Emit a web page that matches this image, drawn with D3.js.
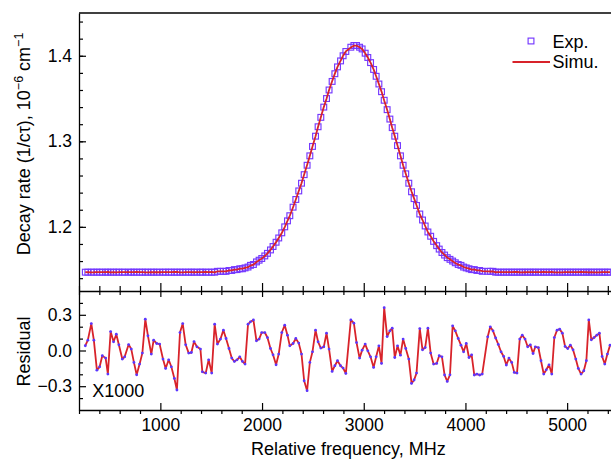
<!DOCTYPE html>
<html><head><meta charset="utf-8">
<script src="https://cdn.jsdelivr.net/npm/d3@7"></script>
<style>
html,body{margin:0;padding:0;background:#fff;}
svg{display:block;}
text{font-family:"Liberation Sans",Arial,Helvetica,sans-serif;fill:#000;}
</style></head>
<body>
<svg id="chart" width="611" height="459"></svg>
<script>
// ---- data ----
const freq = [262,287,321,346,376,403,429,462,484,511,540,567,592,626,649,688,714,740,767,796,823,852,878,911,934,964,993,1026,1052,1082,1108,1138,1163,1193,1220,
1249,1279,1305,1331,1360,1394,1413,1446,1475,1505,1534,1561,1591,1620,1646,1675,1702,1728,1754,1781,1807,1833,1862,1886,1915,1945,1971,1997,2027,2053,2083,2108,2138,2164,2194,2223,2250,2273,
2305,2332,2361,2388,2414,2443,2470,2496,2526,2551,2578,2607,2634,2659,2689,2716,2742,2772,2797,2824,2873,2903,2929,2959,2984,3014,3040,3067,3097,3122,3149,3175,3201,3230,3257,3280,
3305,3332,3361,3387,3413,3443,3470,3495,3519,3551,3578,3604,3631,3658,3687,3717,3742,3769,3795,3821,3848,3874,3900,3929,3956,3982,4008,4035,4061,4087,4113,4140,4165,4219,4244,4271,4297,4323,
4350,4376,4402,4428,4455,4480,4507,4534,4559,4586,4612,4638,4665,4687,4717,4743,4770,4795,4822,4849,4874,4901,4927,4953,4980,5006,5032,5058,5085,5110,5137,5164,5189,5213,5238,5265,5292,5317,5344,5370,5396,5422];

const expRate = [1.147,1.147,1.147,1.147,1.147,1.147,1.147,1.147,1.147,1.147,1.147,1.147,1.147,1.147,1.147,1.147,1.147,1.147,1.147,1.147,1.147,1.147,1.147,1.147,1.147,1.147,1.147,1.147,1.147,1.147,1.147,1.147,1.147,1.147,1.147,
1.147,1.147,1.147,1.147,1.147,1.147,1.147,1.147,1.147,1.147,1.147,1.148,1.148,1.148,1.148,1.149,1.149,1.150,1.150,1.151,1.151,1.152,1.153,1.155,1.156,1.159,1.161,1.163,1.166,1.169,1.173,1.177,1.182,1.187,1.193,1.200,1.207,1.213,
1.223,1.232,1.242,1.251,1.261,1.272,1.283,1.294,1.306,1.317,1.328,1.340,1.350,1.360,1.370,1.379,1.387,1.394,1.400,1.405,1.410,1.412,1.412,1.410,1.408,1.403,1.398,1.392,1.384,1.376,1.367,1.358,1.348,1.337,1.326,1.316,
1.306,1.295,1.283,1.272,1.262,1.251,1.241,1.233,1.225,1.215,1.208,1.201,1.194,1.189,1.183,1.178,1.174,1.170,1.167,1.164,1.162,1.160,1.158,1.156,1.155,1.153,1.152,1.151,1.150,1.150,1.149,1.149,1.148,1.148,1.148,1.148,1.147,1.147,
1.147,1.147,1.147,1.147,1.147,1.147,1.147,1.147,1.147,1.147,1.147,1.147,1.147,1.147,1.147,1.147,1.147,1.147,1.147,1.147,1.147,1.147,1.147,1.147,1.147,1.147,1.147,1.147,1.147,1.147,1.147,1.147,1.147,1.147,1.147,1.147,1.147,1.147,1.147,1.147,1.147,1.147];

// residual, shown multiplied by 1000
const residual = [0.04,0.087,0.226,0.087,-0.165,-0.137,-0.044,-0.064,-0.198,0.159,0.073,0.137,0.048,-0.072,-0.053,0.05,0.012,-0.1,-0.204,-0.114,-0.022,0.263,0.123,-0.03,0.087,0.059,0.054,-0.072,-0.151,-0.078,-0.137,-0.235,-0.332,0.151,0.226,
0.048,-0.022,-0.017,0.075,0.031,0.012,-0.179,-0.19,-0.078,-0.19,0.221,0.054,0.096,0.171,0.101,0.017,-0.064,-0.092,-0.078,-0.053,-0.092,-0.114,0.221,0.241,0.257,0.081,0.096,0.151,0.151,0.109,0.017,-0.036,-0.12,-0.03,0.151,0.213,0.129,0.039,
0.059,0.101,0.062,-0.03,-0.254,-0.338,-0.1,-0.011,0.171,0.073,0.02,0.031,0.146,0.012,-0.176,-0.128,-0.086,-0.128,-0.148,-0.193,0.257,0.23,0.067,-0.064,0.003,0.054,-0.003,-0.053,-0.142,-0.053,0.039,-0.109,0.36,0.117,0.165,0.188,
-0.059,0.039,-0.039,0.096,0.017,-0.072,-0.277,-0.248,-0.19,0.184,0.006,0.025,0.188,-0.022,-0.114,-0.109,-0.044,-0.053,-0.206,-0.26,-0.204,0.207,0.165,0.101,0.045,-0.011,0.059,-0.059,-0.036,-0.206,-0.198,-0.206,-0.198,0.115,0.199,0.165,0.105,0.051,
-0.011,-0.05,-0.122,-0.064,-0.1,-0.184,-0.19,0.096,0.129,0.096,0.031,0.048,-0.025,0.031,0.025,-0.086,-0.198,-0.162,-0.12,-0.198,0.109,0.171,0.179,0.146,0.034,0.017,0.045,0.006,-0.072,-0.151,-0.198,-0.17,-0.086,0.257,0.09,0.109,0.129,0.146,-0.05,-0.114,-0.03,0.045];

// simulated curve = experiment minus residual (residual shown x1000)
const simuRate = expRate.map((v, i) => v - residual[i] / 1000);

const xTickValues = [1000, 2000, 3000, 4000, 5000];
const yTopTickValues = [1.2, 1.3, 1.4];
const yResTickValues = [-0.3, 0.0, 0.3];
const legendLabels = ["Exp.", "Simu."];
const xTitle = "Relative frequency, MHz";
const resTitle = "Residual";
const scaleNote = "X1000";

// ---- layout ----
const svg = d3.select("#chart");
const L = 79, R = 612.9, T = 13, MID = 291, B = 410;
const COL_SQ = "#7438ff", COL_DOT = "#5a36ff", COL_RED = "#d8232a";

const x = d3.scaleLinear().domain([200, 5450]).range([L, R]);
const yTop = d3.scaleLinear().domain([1.125, 1.45]).range([MID, T]);
const yRes = d3.scaleLinear().domain([-0.5, 0.5]).range([B, MID]);

const xMinor = d3.range(1, 28).map(i => i * 200);
const yTopMinor = d3.range(57, 73).map(i => +(i * 0.02).toFixed(2));
const yResMinor = d3.range(-4, 5).map(i => +(i * 0.1).toFixed(1));

function styleAxis(g, fs) {
  g.selectAll("path.domain").attr("stroke", "#000").attr("stroke-width", 1.3);
  g.selectAll(".tick line").attr("stroke", "#000").attr("stroke-width", 1.2);
  g.selectAll(".tick text").attr("font-size", fs).attr("font-family", '"Liberation Sans",Arial,sans-serif').attr("fill", "#000");
}

// frame lines (top border, right border)
svg.append("line").attr("x1", L).attr("x2", R).attr("y1", T).attr("y2", T).attr("stroke", "#000").attr("stroke-width", 1.3);
svg.append("line").attr("x1", R).attr("x2", R).attr("y1", T).attr("y2", B).attr("stroke", "#000").attr("stroke-width", 1.3);

// ---- top panel axes ----
svg.append("g").attr("transform", `translate(${L},0)`)
  .call(d3.axisLeft(yTop).tickValues(yTopMinor).tickSize(-4).tickSizeOuter(0).tickFormat(""))
  .call(g => { styleAxis(g, 17.5); g.select(".domain").remove(); });
svg.append("g").attr("transform", `translate(${L},0)`)
  .call(d3.axisLeft(yTop).tickValues(yTopTickValues).tickSize(-7).tickSizeOuter(0).tickPadding(7).tickFormat(d3.format(".1f")))
  .call(g => styleAxis(g, 17.5));
svg.append("g").attr("transform", `translate(0,${MID})`)
  .call(d3.axisBottom(x).tickValues(xMinor.filter(v => v % 1000 !== 0)).tickSize(-5).tickSizeOuter(0).tickFormat(""))
  .call(g => { styleAxis(g, 17.5); g.select(".domain").remove(); });
svg.append("g").attr("transform", `translate(0,${MID})`)
  .call(d3.axisBottom(x).tickValues(xTickValues).tickSize(-8).tickSizeOuter(0).tickFormat(""))
  .call(g => styleAxis(g, 17.5));

// ---- residual panel axes ----
svg.append("g").attr("transform", `translate(0,${MID})`)
  .call(d3.axisTop(x).tickValues(xMinor.filter(v => v % 1000 !== 0)).tickSize(-4).tickSizeOuter(0).tickFormat(""))
  .call(g => { styleAxis(g, 17.5); g.select(".domain").remove(); });
svg.append("g").attr("transform", `translate(0,${MID})`)
  .call(d3.axisTop(x).tickValues(xTickValues).tickSize(-6).tickSizeOuter(0).tickFormat(""))
  .call(g => { styleAxis(g, 17.5); g.select(".domain").remove(); });

svg.append("g").attr("transform", `translate(0,${B})`)
  .call(d3.axisTop(x).tickValues(xMinor.filter(v => v % 1000 !== 0)).tickSize(-4).tickSizeOuter(0).tickFormat(""))
  .call(g => { styleAxis(g, 17.5); g.select(".domain").remove(); });
svg.append("g").attr("transform", `translate(0,${B})`)
  .call(d3.axisBottom(x).tickValues(xTickValues).tickSize(-7).tickSizeOuter(0).tickPadding(9).tickFormat(d3.format("d")))
  .call(g => styleAxis(g, 17.5));

svg.append("g").attr("transform", `translate(${L},0)`)
  .call(d3.axisLeft(yRes).tickValues(yResMinor.filter(v => Math.abs(v) > 1e-9 && Math.abs(Math.abs(v) - 0.3) > 1e-9)).tickSize(-4).tickSizeOuter(0).tickFormat(""))
  .call(g => { styleAxis(g, 17.5); g.select(".domain").remove(); });
svg.append("g").attr("transform", `translate(${L},0)`)
  .call(d3.axisLeft(yRes).tickValues(yResTickValues).tickSize(-7).tickSizeOuter(0).tickPadding(7).tickFormat(d3.format(".1f")))
  .call(g => styleAxis(g, 17.5));

// ---- top panel marks ----
const pts = freq.map((f, i) => ({f, e: expRate[i], s: simuRate[i], r: residual[i]}));
const sq = 5.8;
svg.append("g").selectAll("rect").data(pts).join("rect")
  .attr("x", d => x(d.f) - sq / 2).attr("y", d => yTop(d.e) - sq / 2)
  .attr("width", sq).attr("height", sq)
  .attr("fill", "none").attr("stroke", COL_SQ).attr("stroke-width", 1.15);
svg.append("path").datum(pts)
  .attr("d", d3.line().x(d => x(d.f)).y(d => yTop(d.s)))
  .attr("fill", "none").attr("stroke", COL_RED).attr("stroke-width", 1.8);

// ---- residual marks ----
svg.append("path").datum(pts)
  .attr("d", d3.line().x(d => x(d.f)).y(d => yRes(d.r)))
  .attr("fill", "none").attr("stroke", COL_RED).attr("stroke-width", 1.8).attr("stroke-linejoin", "round");
svg.append("g").selectAll("circle").data(pts).join("circle")
  .attr("cx", d => x(d.f)).attr("cy", d => yRes(d.r)).attr("r", 1.4)
  .attr("fill", COL_DOT);

// ---- legend ----
const lg = svg.append("g");
lg.append("rect").attr("x", 531 - 2.9).attr("y", 41 - 2.9).attr("width", 5.8).attr("height", 5.8)
  .attr("fill", "none").attr("stroke", COL_SQ).attr("stroke-width", 1.15);
lg.append("text").attr("x", 552.5).attr("y", 47.7).attr("font-size", 18).text(legendLabels[0]);
lg.append("line").attr("x1", 512.5).attr("x2", 550).attr("y1", 62).attr("y2", 62)
  .attr("stroke", COL_RED).attr("stroke-width", 1.8);
lg.append("text").attr("x", 552.5).attr("y", 67.7).attr("font-size", 18).text(legendLabels[1]);

// ---- texts ----
svg.append("text").attr("x", 92.3).attr("y", 397.3).attr("font-size", 18).text(scaleNote);
svg.append("text").attr("x", 348.3).attr("y", 454.5).attr("font-size", 18).attr("text-anchor", "middle").text(xTitle);
svg.append("text").attr("transform", "translate(29.5,351.5) rotate(-90)").attr("font-size", 18)
  .attr("text-anchor", "middle").text(resTitle);

const yt = svg.append("text").attr("transform", "translate(29.5,144) rotate(-90)").attr("font-size", 18)
  .attr("text-anchor", "middle");
yt.append("tspan").text("Decay rate (1/cτ), 10");
yt.append("tspan").attr("font-size", 12.5).attr("dy", -7).text("−6");
yt.append("tspan").attr("dy", 7).text(" cm");
yt.append("tspan").attr("font-size", 12.5).attr("dy", -7).text("−1");
</script>
</body></html>
